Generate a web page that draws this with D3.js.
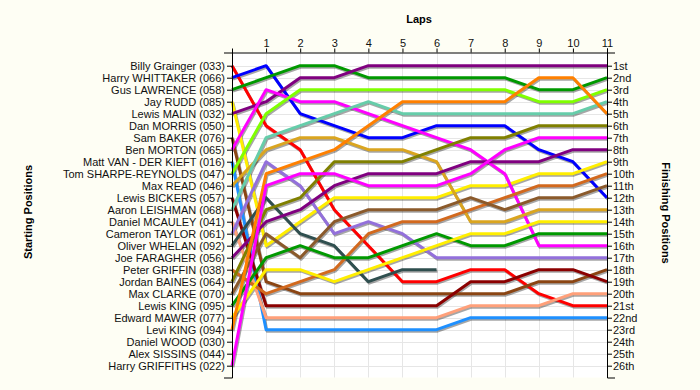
<!DOCTYPE html>
<html lang="en">
<head>
<meta charset="UTF-8">
<title>Lap Chart</title>
<script src="https://d3js.org/d3.v7.min.js"></script>
<style>
    body { margin: 0; background: #fefef4; }
    svg { display: block; font-family: "Liberation Sans", Arial, sans-serif; }
</style>
</head>
<body>
<div id="chart"></div>
<script>
    // starting grid, top to bottom
    const startingGrid = [
        "Billy Grainger (033)", "Harry WHITTAKER (066)", "Gus LAWRENCE (058)", "Jay RUDD (085)",
        "Lewis MALIN (032)", "Dan MORRIS (050)", "Sam BAKER (076)", "Ben MORTON (065)",
        "Matt VAN - DER KIEFT (016)", "Tom SHARPE-REYNOLDS (047)", "Max READ (046)", "Lewis BICKERS (057)",
        "Aaron LEISHMAN (068)", "Daniel MCAULEY (041)", "Cameron TAYLOR (061)", "Oliver WHELAN (092)",
        "Joe FARAGHER (056)", "Peter GRIFFIN (038)", "Jordan BAINES (064)", "Max CLARKE (070)",
        "Lewis KING (095)", "Edward MAWER (077)", "Levi KING (094)", "Daniel WOOD (030)",
        "Alex SISSINS (044)", "Harry GRIFFITHS (022)"
    ];
    const finishLabels = ["1st", "2nd", "3rd", "4th", "5th", "6th", "7th", "8th", "9th", "10th",
        "11th", "12th", "13th", "14th", "15th", "16th", "17th", "18th", "19th", "20th",
        "21st", "22nd", "23rd", "24th", "25th", "26th"];
    const laps = [1, 2, 3, 4, 5, 6, 7, 8, 9, 10, 11];

    // position at lap 0 (grid), lap 1 ... lap 11
    const grainger   = [1, 6, 8, 13, 16, 19, 19, 18, 18, 20, 21, 21];
    const whittaker  = [2, 1, 5, 6, 7, 7, 6, 6, 6, 8, 9, 12];
    const lawrence   = [3, 2, 1, 1, 2, 2, 2, 2, 2, 3, 3, 2];
    const rudd       = [4, 16, 14, 12, 12, 12, 12, 11, 11, 10, 10, 9];
    const malin      = [5, 4, 2, 2, 1, 1, 1, 1, 1, 1, 1, 1];
    const baker      = [7, 19, 20, 20, 20, 20, 20, 20, 20, 19, 19, 18];
    const morton     = [8, 3, 4, 4, 5, 6, 7, 8, 10, 16, 16, 16];
    const vanDerKieft = [9, 23, 23, 23, 23, 23, 23, 22, 22, 22, 22, 22];
    const sharpe     = [10, 5, 3, 3, 3, 3, 3, 3, 3, 4, 4, 3];
    const read       = [11, 8, 7, 7, 8, 8, 9, 14, 14, 13, 13, 13];
    const bickers    = [12, 21, 21, 21, 21, 21, 21, 19, 19, 18, 18, 19];
    const leishman   = [13, 7, 6, 5, 4, 5, 5, 5, 5, 5, 5, 4];
    const mcauley    = [14, 22, 22, 22, 22, 22, 22, 21, 21, 21, 20, 20];
    const taylor     = [15, 9, 11, 15, 14, 15, 17, 17, 17, 17, 17, 17];
    const whelan     = [16, 12, 15, 16, 19, 18, 18];
    const faragher   = [17, 14, 13, 11, 10, 10, 10, 9, 9, 9, 8, 8];
    const griffin    = [18, 20, 19, 18, 15, 14, 14, 13, 12, 11, 11, 10];
    const baines     = [19, 13, 12, 9, 9, 9, 8, 7, 7, 6, 6, 6];
    const clarke     = [20, 15, 17, 14, 13, 13, 13, 12, 13, 12, 12, 11];
    const lewisKing  = [21, 17, 16, 17, 17, 16, 15, 16, 16, 15, 15, 15];
    const mawer      = [22, 18, 18, 19, 18, 17, 16, 15, 15, 14, 14, 14];
    const leviKing   = [23, 10, 9, 8, 6, 4, 4, 4, 4, 2, 2, 5];
    const griffiths  = [26, 11, 10, 10, 11, 11, 11, 10, 8, 7, 7, 7];

    const drivers = [grainger, whittaker, lawrence, rudd, malin, baker, morton, vanDerKieft,
        sharpe, read, bickers, leishman, mcauley, taylor, whelan, faragher, griffin, baines,
        clarke, lewisKing, mawer, leviKing, griffiths];
    const colours = ["#ff0000", "#0000ff", "#009900", "#ffee00", "#800080", "#8b4513", "#ff00ff", "#1e90ff",
        "#80ff00", "#daa520", "#8b0000", "#66cdaa", "#ffa07a", "#9370db", "#2f4f4f", "#800080",
        "#d2691e", "#808000", "#8b5a2b", "#009900", "#ffee00", "#ff8000", "#ff00ff"];

    const width = 700;
    const height = 390;
    const plotTop = 52.5;
    const plotBottom = 377.5;

    const svg = d3.select("#chart")
        .append("svg")
        .attr("width", width)
        .attr("height", height);

    const x = d3.scaleLinear().domain([0, 11]).range([232, 607]);
    const y = d3.scaleLinear().domain([1, 26]).range([65.7, 365.7]);
    // same mapping, stretched to the plot edges so the axis lines reach them
    const yAxisScale = y.copy().domain([y.invert(plotTop), y.invert(plotBottom)]).range([plotTop, plotBottom]);

    svg.append("rect")
        .attr("x", x(0))
        .attr("y", plotTop)
        .attr("width", x(11) - x(0))
        .attr("height", plotBottom - plotTop)
        .attr("fill", "#ffffff");

    // grid
    svg.append("g")
        .selectAll("line")
        .data(d3.range(1, 27))
        .join("line")
        .attr("x1", x(0)).attr("x2", x(11))
        .attr("y1", d => Math.round(y(d)) + 0.5).attr("y2", d => Math.round(y(d)) + 0.5)
        .attr("stroke", "#e6e6e6");

    svg.append("g")
        .selectAll("line")
        .data(laps)
        .join("line")
        .attr("x1", d => Math.round(x(d)) + 0.5).attr("x2", d => Math.round(x(d)) + 0.5)
        .attr("y1", plotTop).attr("y2", plotBottom)
        .attr("stroke", "#e6e6e6");

    // lines
    const line = d3.line()
        .x((d, i) => x(i))
        .y(d => y(d));

    const lines = svg.append("g")
        .attr("fill", "none")
        .attr("stroke-width", 3)
        .attr("stroke-linejoin", "round");

    lines.selectAll("path.shadow")
        .data(drivers)
        .join("path")
        .attr("class", "shadow")
        .attr("d", line)
        .attr("transform", "translate(1,1.5)")
        .attr("stroke", "#000")
        .attr("stroke-opacity", 0.35);

    lines.selectAll("path.series")
        .data(drivers)
        .join("path")
        .attr("class", "series")
        .attr("d", line)
        .attr("stroke", (d, i) => colours[i]);

    // axes
    const leftAxis = svg.append("g")
        .attr("transform", `translate(${x(0)},0)`)
        .call(d3.axisLeft(yAxisScale)
            .tickValues(d3.range(1, 27))
            .tickFormat(d => startingGrid[d - 1])
            .tickSize(5)
            .tickSizeOuter(8));

    const rightAxis = svg.append("g")
        .attr("transform", `translate(${x(11)},0)`)
        .call(d3.axisRight(yAxisScale)
            .tickValues(d3.range(1, 27))
            .tickFormat(d => finishLabels[d - 1])
            .tickSize(5)
            .tickSizeOuter(8));

    const topAxis = svg.append("g")
        .attr("transform", `translate(0,${plotTop})`)
        .call(d3.axisTop(x)
            .tickValues(laps)
            .tickFormat(d3.format("d"))
            .tickSize(4)
            .tickSizeOuter(4));

    [leftAxis, rightAxis, topAxis].forEach(g => {
        g.selectAll("text")
            .attr("font-family", "'Liberation Sans', Arial, sans-serif")
            .attr("font-size", 11)
            .attr("fill", "#111");
        g.selectAll("line, path").attr("stroke", "#000");
    });
    leftAxis.selectAll("text").attr("x", -7);
    rightAxis.selectAll("text").attr("x", 6);
    topAxis.selectAll("text").attr("y", -6);

    // titles
    svg.append("text")
        .attr("x", 419)
        .attr("y", 23)
        .attr("text-anchor", "middle")
        .attr("font-size", 11)
        .attr("font-weight", "bold")
        .text("Laps");

    svg.append("text")
        .attr("transform", "translate(32,212) rotate(-90)")
        .attr("text-anchor", "middle")
        .attr("font-size", 11)
        .attr("font-weight", "bold")
        .text("Starting Positions");

    svg.append("text")
        .attr("transform", "translate(662,213) rotate(90)")
        .attr("text-anchor", "middle")
        .attr("font-size", 11)
        .attr("font-weight", "bold")
        .text("Finishing Positions");
</script>
</body>
</html>
